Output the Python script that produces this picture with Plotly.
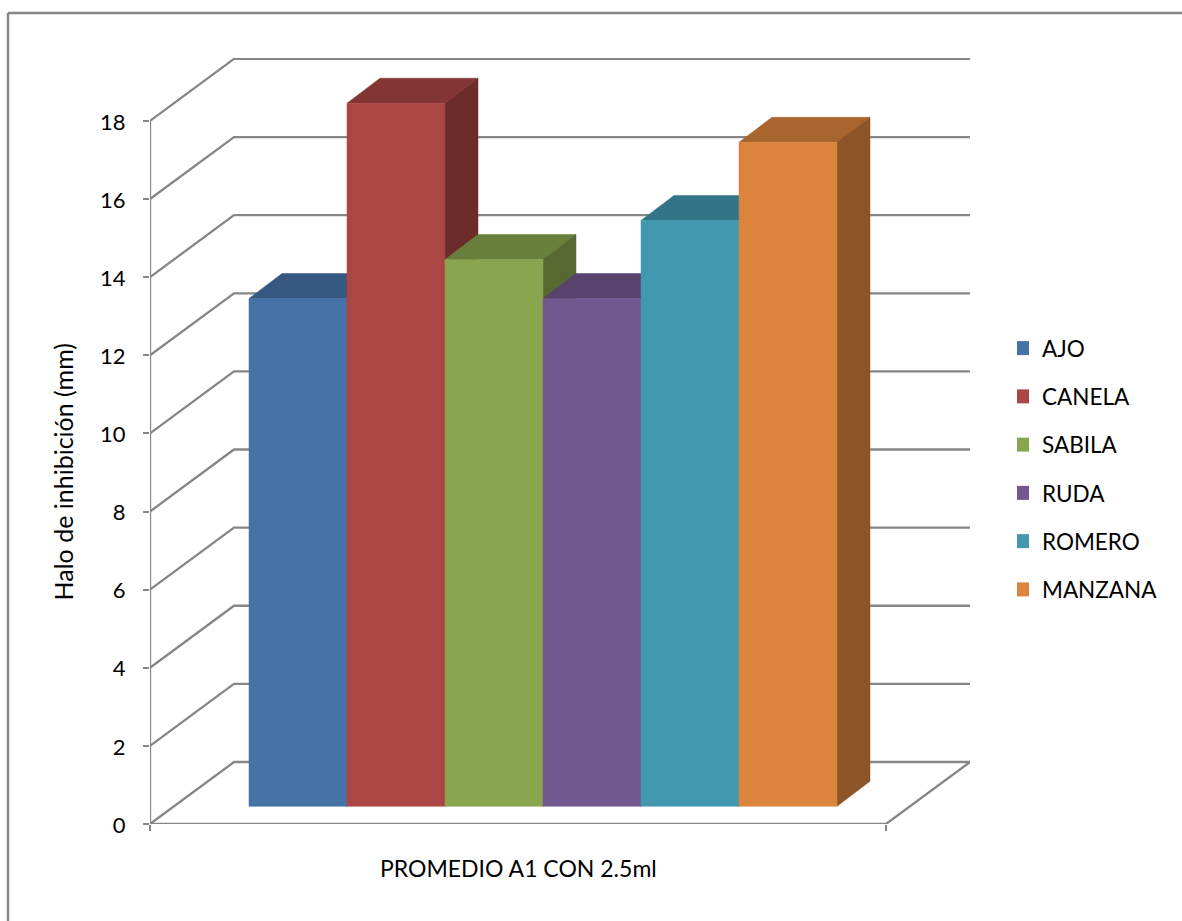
import plotly.graph_objects as go

categories = ["AJO", "CANELA", "SABILA", "RUDA", "ROMERO", "MANZANA"]
values = [13, 18, 14, 13, 15, 17]
colors = ["#4572A7", "#AA4643", "#89A54E", "#71588F", "#4198AF", "#DB843D"]
y_ticks = list(range(0, 19, 2))
y_title = "Halo de inhibición (mm)"
x_title = "PROMEDIO A1 CON 2.5ml"

W, H = 1182, 921
L, R, T, B = 150, 212, 58, 97
PW, PH = W - L - R, H - T - B
UX = 98.0    # px per bar slot
UY = 39.06   # px per mm
X_MAX = PW / UX
Y_MAX = PH / UY
X_END = 736 / UX       # front edge of floor
GAP = 0.75             # slots before first bar
WALL_DX, WALL_DY = 84 / UX, 62 / UY
F_DX, F_DY = 25.5 / UX, 17.7 / UY   # bar front offset from axis plane
D_DX, D_DY = 33 / UX, 25 / UY       # bar depth
GRID = "#868686"
FONT = "Lato"


def shade(hex_color, k):
    r, g, b = (int(hex_color[i:i + 2], 16) for i in (1, 3, 5))
    return "rgb(%d,%d,%d)" % (r * k, g * k, b * k)


fig = go.Figure()

# walls, floor and axis lines
gx, gy = [], []
for v in y_ticks:
    gx += [0, WALL_DX, X_MAX, None]
    gy += [v, v + WALL_DY, v + WALL_DY, None]
gx += [0, X_END, X_END + WALL_DX, None, 0, 0]
gy += [0, 0, WALL_DY, None, 0, y_ticks[-1]]
fig.add_trace(go.Scatter(x=gx, y=gy, mode="lines", line=dict(color=GRID, width=2.3),
                         showlegend=False, hoverinfo="skip", cliponaxis=False))


def poly(xs, ys, color, name, hover=False):
    fig.add_trace(go.Scatter(x=xs, y=ys, mode="lines", fill="toself", fillcolor=color,
                             line=dict(color=color, width=0.5), legendgroup=name,
                             showlegend=False, hoverinfo="skip" if not hover else None,
                             name=name))


for i, (name, val, col) in enumerate(zip(categories, values, colors)):
    x0 = GAP + i + F_DX
    x1 = x0 + 1
    y0 = F_DY
    y1 = val + F_DY
    poly([x0, x0 + D_DX, x1 + D_DX, x1, x0], [y1, y1 + D_DY, y1 + D_DY, y1, y1], shade(col, 0.77), name)
    poly([x1, x1 + D_DX, x1 + D_DX, x1, x1], [y0, y0 + D_DY, y1 + D_DY, y1, y0], shade(col, 0.64), name)
    poly([x0, x1, x1, x0, x0], [y0, y0, y1, y1, y0], col, name, hover=True)

# legend keys
for name, col in zip(categories, colors):
    fig.add_trace(go.Scatter(x=[None], y=[None], mode="markers", name=name, legendgroup=name,
                             marker=dict(symbol="square", size=14, color=col)))

# chart area border
bx0 = (8 - L) / PW
bx1 = (W + 5 - L) / PW
by0 = (H - B - (H + 5)) / PH
by1 = (H - B - 13) / PH
for s in [dict(x0=bx0, x1=bx1, y0=by1, y1=by1), dict(x0=bx0, x1=bx0, y0=by0, y1=by1)]:
    fig.add_shape(type="line", xref="paper", yref="paper", line=dict(color=GRID, width=2.5), **s)

fig.add_annotation(text=y_title, xref="paper", yref="y", x=(63 - L) / PW, y=9, showarrow=False,
                   textangle=-90, xanchor="center", yanchor="middle",
                   font=dict(family=FONT, size=25, color="#000"))
fig.add_annotation(text=x_title, xref="x", yref="paper", x=X_END / 2, y=(824 - 868) / PH, showarrow=False,
                   xanchor="center", yanchor="middle", font=dict(family=FONT, size=23, color="#000"))

fig.update_layout(
    width=W, height=H, margin=dict(l=L, r=R, t=T, b=B, autoexpand=False),
    paper_bgcolor="white", plot_bgcolor="white",
    font=dict(family=FONT, size=20, color="#000"),
    xaxis=dict(range=[0, X_MAX], showgrid=False, zeroline=False, showline=False,
               tickmode="array", tickvals=[0, X_END], ticktext=["", ""],
               ticks="outside", ticklen=6, tickwidth=2.3, tickcolor=GRID),
    yaxis=dict(range=[0, Y_MAX], showgrid=False, zeroline=False, showline=False,
               tickmode="array", tickvals=y_ticks, ticks="outside", ticklen=6, tickwidth=2.3,
               tickcolor=GRID, ticklabelstandoff=13, ticklabelshift=1,
               tickfont=dict(family=FONT, size=22)),
    legend=dict(x=(1017 - L) / PW, y=(824 - 327) / PH, xanchor="left", yanchor="top",
                tracegroupgap=16, font=dict(family=FONT, size=22.5), indentation=-15,
                bgcolor="rgba(0,0,0,0)"),
)

fig.write_html("out.html", config=dict(displayModeBar=False),
               post_script="document.body.style.margin='0';")
